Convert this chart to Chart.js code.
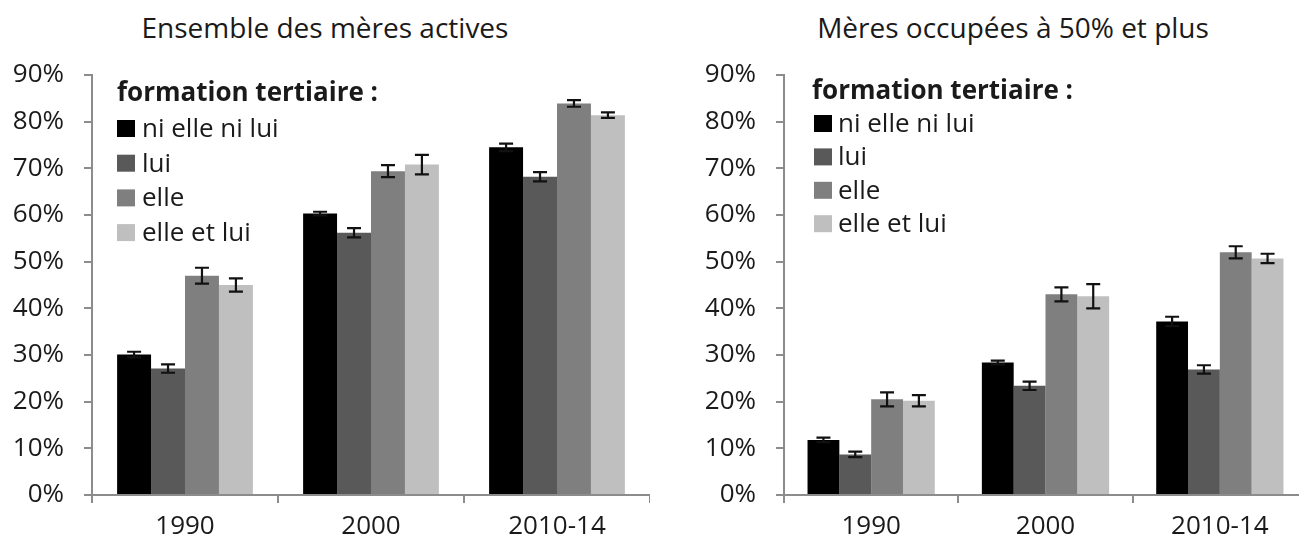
<!DOCTYPE html>
<html>
<head>
<meta charset="utf-8">
<script src="https://cdn.jsdelivr.net/npm/chart.js@4/dist/chart.umd.min.js"></script>
<style>
  body { margin: 0; width: 1299px; height: 545px; overflow: hidden; position: relative; background: #fff; }
  .title { position: absolute; top: 10px; font: 28px "Open Sans", sans-serif; line-height: 34px; color: #1a1a1a; text-align: center; white-space: nowrap; }
  .box { position: absolute; top: 0; height: 545px; }
</style>
</head>
<body>
<div class="title" style="left:0;width:650px">Ensemble des mères actives</div>
<div class="title" style="left:713px;width:600px">Mères occupées à 50% et plus</div>
<div class="box" style="left:0;width:650px"><canvas id="left" width="650" height="545"></canvas></div>
<div class="box" style="left:650px;width:657px"><canvas id="right" width="657" height="545"></canvas></div>
<script>
// categories and series
const categories = ['1990', '2000', '2010-14'];
const seriesLabels = ['ni elle ni lui', 'lui', 'elle', 'elle et lui'];
const seriesColors = ['#000000', '#595959', '#7f7f7f', '#bfbfbf'];
const legendTitle = 'formation tertiaire :';

// Ensemble des mères actives (%)
const activesNiElleNiLui = [30.1, 60.3, 74.5];
const activesLui = [27.1, 56.2, 68.2];
const activesElle = [47.0, 69.4, 83.9];
const activesElleEtLui = [45.0, 70.8, 81.4];
const activesErrNiElleNiLui = [0.6, 0.4, 0.8];
const activesErrLui = [0.9, 1.0, 1.0];
const activesErrElle = [1.7, 1.3, 0.7];
const activesErrElleEtLui = [1.4, 2.1, 0.6];

// Mères occupées à 50% et plus (%)
const occupeesNiElleNiLui = [11.8, 28.4, 37.2];
const occupeesLui = [8.7, 23.4, 26.9];
const occupeesElle = [20.5, 43.0, 52.0];
const occupeesElleEtLui = [20.2, 42.6, 50.7];
const occupeesErrNiElleNiLui = [0.5, 0.4, 1.0];
const occupeesErrLui = [0.6, 0.9, 0.9];
const occupeesErrElle = [1.5, 1.5, 1.3];
const occupeesErrElleEtLui = [1.2, 2.6, 1.0];

const yTicks = [0, 10, 20, 30, 40, 50, 60, 70, 80, 90];

const FONT = '"Open Sans", sans-serif';
const TEXT = '#1a1a1a';
const AXIS = '#8c8c8c';

// draws the I-shaped error bars on top of each bar
const errorBars = {
  id: 'errorBars',
  afterDatasetsDraw(chart) {
    const { ctx } = chart;
    const y = chart.scales.y;
    chart.data.datasets.forEach((ds, di) => {
      const meta = chart.getDatasetMeta(di);
      meta.data.forEach((bar, i) => {
        const v = ds.data[i];
        const e = ds.errors[i];
        const top = y.getPixelForValue(v + e);
        const bot = y.getPixelForValue(v - e);
        ctx.save();
        ctx.strokeStyle = '#111';
        ctx.lineWidth = 2.2;
        ctx.beginPath();
        ctx.moveTo(bar.x, top); ctx.lineTo(bar.x, bot);
        ctx.moveTo(bar.x - 7, top); ctx.lineTo(bar.x + 7, top);
        ctx.moveTo(bar.x - 7, bot); ctx.lineTo(bar.x + 7, bot);
        ctx.stroke();
        ctx.restore();
      });
    });
  },
};

// legend drawn inside the plot area, with its own title
const innerLegend = {
  id: 'innerLegend',
  afterDraw(chart, _args, opts) {
    const { ctx } = chart;
    ctx.save();
    ctx.fillStyle = TEXT;
    ctx.textBaseline = 'alphabetic';
    ctx.font = `bold 26px ${FONT}`;
    ctx.fillText(legendTitle, opts.x, opts.titleY);
    ctx.font = `26px ${FONT}`;
    chart.data.datasets.forEach((ds, i) => {
      const cy = opts.firstY + i * opts.step;
      ctx.fillStyle = ds.backgroundColor;
      ctx.fillRect(opts.x + opts.boxOffset, cy - 8, 18, 17);
      ctx.fillStyle = TEXT;
      ctx.fillText(ds.label, opts.x + opts.textOffset, cy + 9);
    });
    ctx.restore();
  },
};

function buildDatasets(values, errors) {
  return seriesLabels.map((label, i) => ({
    label,
    data: values[i],
    errors: errors[i],
    backgroundColor: seriesColors[i],
    borderWidth: 0,
    categoryPercentage: 0.73,
    barPercentage: 1,
  }));
}

function makeChart(id, values, errors, padLeft, legend) {
  return new Chart(document.getElementById(id), {
    type: 'bar',
    data: { labels: categories, datasets: buildDatasets(values, errors) },
    options: {
      responsive: false,
      animation: false,
      events: [],
      layout: { padding: { top: 75, left: padLeft, right: 0, bottom: 0 } },
      scales: {
        x: {
          grid: { display: true, drawOnChartArea: false, offset: true, tickLength: 8, color: AXIS, lineWidth: 2 },
          border: { display: true, color: AXIS, width: 2 },
          ticks: { color: TEXT, font: { family: FONT, size: 26 }, padding: 8, maxRotation: 0 },
          afterFit(scale) { scale.height = 50; },
        },
        y: {
          min: 0,
          max: 90,
          afterBuildTicks(scale) { scale.ticks = yTicks.map((value) => ({ value })); },
          grid: { display: true, drawOnChartArea: false, tickLength: 8, color: AXIS, lineWidth: 2 },
          border: { display: true, color: AXIS, width: 2 },
          ticks: { color: TEXT, font: { family: FONT, size: 26 }, padding: 20, callback: (v) => `${v}%` },
          afterFit(scale) { scale.width = 92; },
        },
      },
      plugins: {
        legend: { display: false },
        tooltip: { enabled: false },
        innerLegend: legend,
      },
    },
    plugins: [errorBars, innerLegend],
  });
}

makeChart('left',
  [activesNiElleNiLui, activesLui, activesElle, activesElleEtLui],
  [activesErrNiElleNiLui, activesErrLui, activesErrElle, activesErrElleEtLui],
  0,
  { x: 117, titleY: 101, firstY: 128, step: 34.7, boxOffset: 0, textOffset: 25 });

makeChart('right',
  [occupeesNiElleNiLui, occupeesLui, occupeesElle, occupeesElleEtLui],
  [occupeesErrNiElleNiLui, occupeesErrLui, occupeesErrElle, occupeesErrElleEtLui],
  42,
  { x: 162, titleY: 99, firstY: 123, step: 33.4, boxOffset: 2, textOffset: 26 });
</script>
</body>
</html>
